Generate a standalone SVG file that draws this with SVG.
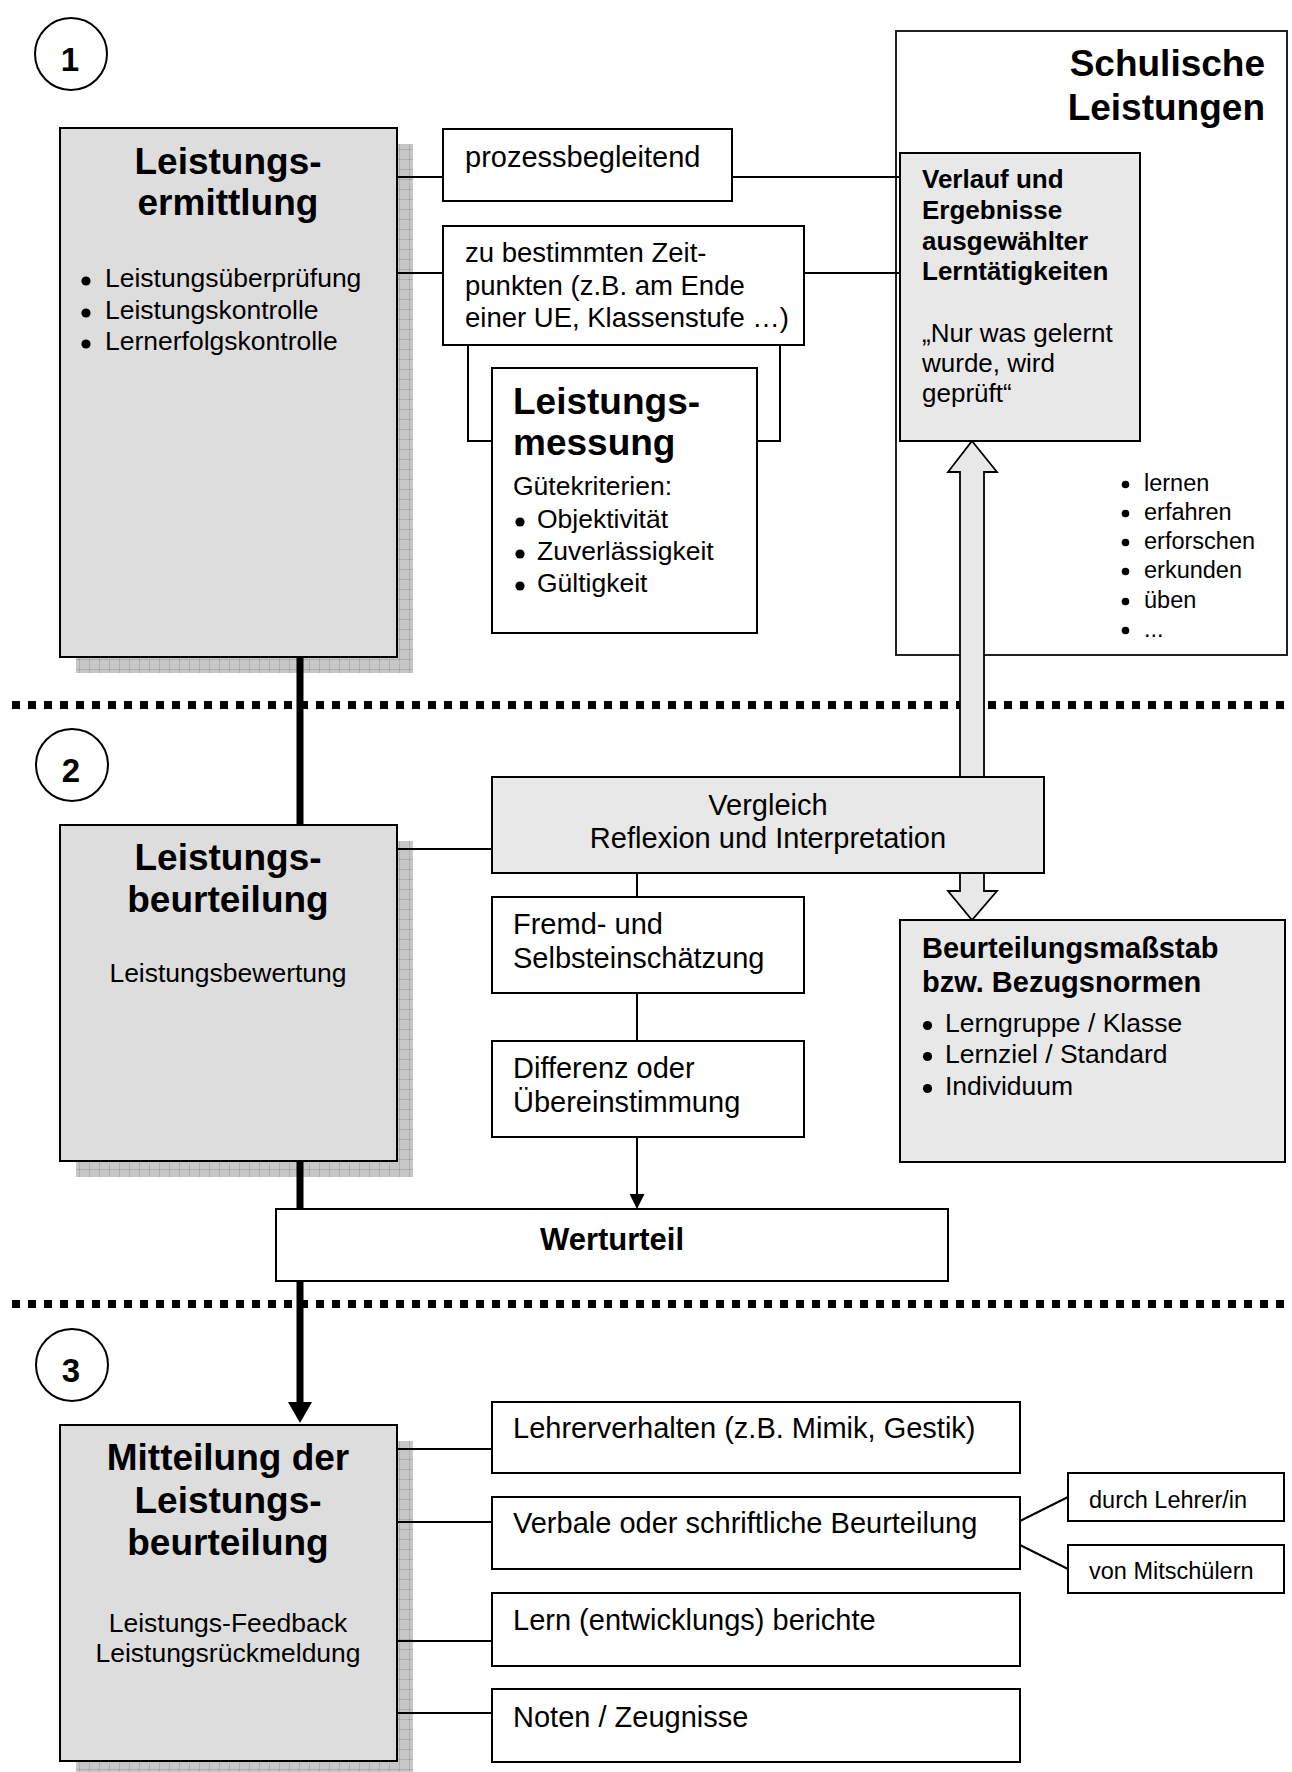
<svg xmlns="http://www.w3.org/2000/svg" width="1292" height="1772" viewBox="0 0 1292 1772">
<style>
text{font-family:"Liberation Sans",Arial,Helvetica,sans-serif;fill:#000}
.b{font-weight:bold}
.h{font-size:37px;font-weight:bold}
.s26{font-size:26.5px}
.s29{font-size:29px}
.s275{font-size:27.5px}
.s235{font-size:23.5px}
.mid{text-anchor:middle}
.box{stroke:#000;stroke-width:2}
.white{fill:#fff}
.grey{fill:#dddddd}
.light{fill:#e8e8e8}
.shadow{fill:url(#shade)}
.ln{stroke:#000;stroke-width:2;fill:none}
.dots{stroke:#000;stroke-width:8;stroke-dasharray:8 8}
.circ{fill:#fff;stroke:#000;stroke-width:2}
.dot{fill:#000}
</style>
<defs>
<pattern id="shade" width="10" height="10" patternUnits="userSpaceOnUse">
<rect width="10" height="10" fill="#000" fill-opacity="0.22"/>
<path d="M0 9.5H10M9.5 0V10" stroke="#000" stroke-opacity="0.12" stroke-width="1"/>
</pattern>
<marker id="headS" markerUnits="userSpaceOnUse" markerWidth="15" markerHeight="15" viewBox="0 0 15 15" refX="0" refY="7.5" orient="auto">
<path d="M0,0 L15,7.5 L0,15 z" fill="#000"/>
</marker>
<marker id="headL" markerUnits="userSpaceOnUse" markerWidth="21" markerHeight="24" viewBox="0 0 21 24" refX="0" refY="12" orient="auto">
<path d="M0,0 L21,12 L0,24 z" fill="#000"/>
</marker>
</defs>

<g id="separators">
<line class="dots" x1="12" y1="705" x2="1285" y2="705"/>
<line class="dots" x1="12" y1="1304" x2="1285" y2="1304"/>
</g>

<g id="schulische-leistungen">
<rect x="896" y="31" width="391" height="624" fill="#fff" stroke="#222" stroke-width="2"/>
<text class="h" text-anchor="end" x="1265" y="76">Schulische</text>
<text class="h" text-anchor="end" x="1265" y="120">Leistungen</text>
<circle class="dot" cx="1125.5" cy="484.5" r="3.8"/>
<circle class="dot" cx="1125.5" cy="513.5" r="3.8"/>
<circle class="dot" cx="1125.5" cy="542.5" r="3.8"/>
<circle class="dot" cx="1125.5" cy="571.5" r="3.8"/>
<circle class="dot" cx="1125.5" cy="601.5" r="3.8"/>
<circle class="dot" cx="1125.5" cy="630.5" r="3.8"/>
<text class="s235" x="1144" y="491">lernen</text>
<text class="s235" x="1144" y="520">erfahren</text>
<text class="s235" x="1144" y="549">erforschen</text>
<text class="s235" x="1144" y="578">erkunden</text>
<text class="s235" x="1144" y="608">üben</text>
<text class="s235" x="1144" y="637">...</text>
</g>

<g id="connectors">
<line class="ln" x1="397" y1="177" x2="443" y2="177"/>
<line class="ln" x1="732" y1="177" x2="900" y2="177"/>
<line class="ln" x1="397" y1="273" x2="443" y2="273"/>
<line class="ln" x1="804" y1="273" x2="900" y2="273"/>
<polyline class="ln" points="468,345 468,441 492,441"/>
<polyline class="ln" points="780,345 780,441 757,441"/>
<line x1="300" y1="657" x2="300" y2="1402" stroke="#000" stroke-width="7" marker-end="url(#headL)"/>
<line class="ln" x1="397" y1="849" x2="492" y2="849"/>
<line class="ln" x1="637" y1="873" x2="637" y2="897"/>
<line class="ln" x1="637" y1="993" x2="637" y2="1041"/>
<line class="ln" x1="637" y1="1137" x2="637" y2="1194" marker-end="url(#headS)"/>
<polygon points="972,441 997,472 984,472 984,891 997,891 972,920 948,891 960,891 960,472 948,472" fill="#e8e8e8" stroke="#000" stroke-width="1.8" stroke-linejoin="miter"/>
<line class="ln" x1="397" y1="1449" x2="492" y2="1449"/>
<line class="ln" x1="397" y1="1522" x2="492" y2="1522"/>
<line class="ln" x1="397" y1="1641" x2="492" y2="1641"/>
<line class="ln" x1="397" y1="1713" x2="492" y2="1713"/>
<line class="ln" x1="1020" y1="1521" x2="1068" y2="1497"/>
<line class="ln" x1="1020" y1="1545" x2="1068" y2="1569"/>
</g>

<g id="step1">
<circle class="circ" cx="71" cy="54" r="36"/>
<text class="b mid" x="70" y="71" font-size="33">1</text>
</g>
<g id="step2">
<circle class="circ" cx="72" cy="765" r="36"/>
<text class="b mid" x="71" y="782" font-size="33">2</text>
</g>
<g id="step3">
<circle class="circ" cx="72" cy="1365" r="36"/>
<text class="b mid" x="71" y="1382" font-size="33">3</text>
</g>

<g id="leistungsermittlung">
<rect class="shadow" x="76" y="144" width="337" height="529"/>
<rect class="box grey" x="60" y="128" width="337" height="529"/>
<text class="h mid" x="228" y="174">Leistungs-</text>
<text class="h mid" x="228" y="215">ermittlung</text>
<circle class="dot" cx="86" cy="281" r="4.6"/>
<circle class="dot" cx="86" cy="313" r="4.6"/>
<circle class="dot" cx="86" cy="344" r="4.6"/>
<text class="s26" x="105" y="287">Leistungsüberprüfung</text>
<text class="s26" x="105" y="319">Leistungskontrolle</text>
<text class="s26" x="105" y="350">Lernerfolgskontrolle</text>
</g>

<g id="prozessbegleitend">
<rect class="box white" x="443" y="129" width="289" height="72"/>
<text class="s29" x="465" y="167">prozessbegleitend</text>
</g>

<g id="zeitpunkte">
<rect class="box white" x="443" y="226" width="361" height="119"/>
<text class="s275" x="465" y="262">zu bestimmten Zeit-</text>
<text class="s275" x="465" y="295">punkten (z.B. am Ende</text>
<text class="s275" x="465" y="327">einer UE, Klassenstufe …)</text>
</g>

<g id="leistungsmessung">
<rect class="box white" x="492" y="368" width="265" height="265"/>
<text class="h" x="513" y="414">Leistungs-</text>
<text class="h" x="513" y="455">messung</text>
<text class="s26" x="513" y="495">Gütekriterien:</text>
<circle class="dot" cx="520" cy="522" r="4.6"/>
<circle class="dot" cx="520" cy="554" r="4.6"/>
<circle class="dot" cx="520" cy="586" r="4.6"/>
<text class="s26" x="537" y="528">Objektivität</text>
<text class="s26" x="537" y="560">Zuverlässigkeit</text>
<text class="s26" x="537" y="592">Gültigkeit</text>
</g>

<g id="verlauf">
<rect class="box light" x="900" y="153" width="240" height="288"/>
<text class="b" font-size="26px" x="922" y="188">Verlauf und</text>
<text class="b" font-size="26px" x="922" y="219">Ergebnisse</text>
<text class="b" font-size="26px" x="922" y="250">ausgewählter</text>
<text class="b" font-size="26px" x="922" y="280">Lerntätigkeiten</text>
<text font-size="26px" x="922" y="342">„Nur was gelernt</text>
<text font-size="26px" x="922" y="372">wurde, wird</text>
<text font-size="26px" x="922" y="402">geprüft“</text>
</g>

<g id="leistungsbeurteilung">
<rect class="shadow" x="76" y="841" width="337" height="336"/>
<rect class="box grey" x="60" y="825" width="337" height="336"/>
<text class="h mid" x="228" y="870">Leistungs-</text>
<text class="h mid" x="228" y="912">beurteilung</text>
<text class="s26 mid" x="228" y="982">Leistungsbewertung</text>
</g>

<g id="vergleich">
<rect class="box light" x="492" y="777" width="552" height="96"/>
<text class="s29 mid" x="768" y="815">Vergleich</text>
<text class="s29 mid" x="768" y="848">Reflexion und Interpretation</text>
</g>

<g id="einschaetzung">
<rect class="box white" x="492" y="897" width="312" height="96"/>
<text class="s29" x="513" y="934">Fremd- und</text>
<text class="s29" x="513" y="968">Selbsteinschätzung</text>
</g>

<g id="differenz">
<rect class="box white" x="492" y="1041" width="312" height="96"/>
<text class="s29" x="513" y="1078">Differenz oder</text>
<text class="s29" x="513" y="1112">Übereinstimmung</text>
</g>

<g id="beurteilungsmassstab">
<rect class="box light" x="900" y="920" width="385" height="242"/>
<text class="b s29" x="922" y="958">Beurteilungsmaßstab</text>
<text class="b s29" x="922" y="992">bzw. Bezugsnormen</text>
<circle class="dot" cx="927.5" cy="1025.5" r="4.6"/>
<circle class="dot" cx="927.5" cy="1056.5" r="4.6"/>
<circle class="dot" cx="927.5" cy="1088.5" r="4.6"/>
<text class="s26" x="945" y="1032">Lerngruppe / Klasse</text>
<text class="s26" x="945" y="1063">Lernziel / Standard</text>
<text class="s26" x="945" y="1095">Individuum</text>
</g>

<g id="werturteil">
<rect class="box white" x="276" y="1209" width="672" height="72"/>
<text class="b mid" font-size="31px" x="612" y="1250">Werturteil</text>
</g>

<g id="mitteilung">
<rect class="shadow" x="76" y="1441" width="337" height="336"/>
<rect class="box grey" x="60" y="1425" width="337" height="336"/>
<text class="h mid" x="228" y="1470">Mitteilung der</text>
<text class="h mid" x="228" y="1513">Leistungs-</text>
<text class="h mid" x="228" y="1555">beurteilung</text>
<text class="s26 mid" x="228" y="1632">Leistungs-Feedback</text>
<text class="s26 mid" x="228" y="1662">Leistungsrückmeldung</text>
</g>

<g id="lehrerverhalten">
<rect class="box white" x="492" y="1402" width="528" height="71"/>
<text class="s29" x="513" y="1438">Lehrerverhalten (z.B. Mimik, Gestik)</text>
</g>

<g id="verbale-beurteilung">
<rect class="box white" x="492" y="1497" width="528" height="72"/>
<text class="s29" x="513" y="1533">Verbale oder schriftliche Beurteilung</text>
</g>

<g id="durch-lehrer">
<rect class="box white" x="1068" y="1473" width="216" height="48"/>
<text class="s235" x="1089" y="1508">durch Lehrer/in</text>
</g>

<g id="von-mitschuelern">
<rect class="box white" x="1068" y="1545" width="216" height="48"/>
<text class="s235" x="1089" y="1579">von Mitschülern</text>
</g>

<g id="lernberichte">
<rect class="box white" x="492" y="1593" width="528" height="73"/>
<text class="s29" x="513" y="1630">Lern (entwicklungs) berichte</text>
</g>

<g id="noten">
<rect class="box white" x="492" y="1689" width="528" height="73"/>
<text class="s29" x="513" y="1727">Noten / Zeugnisse</text>
</g>
</svg>
